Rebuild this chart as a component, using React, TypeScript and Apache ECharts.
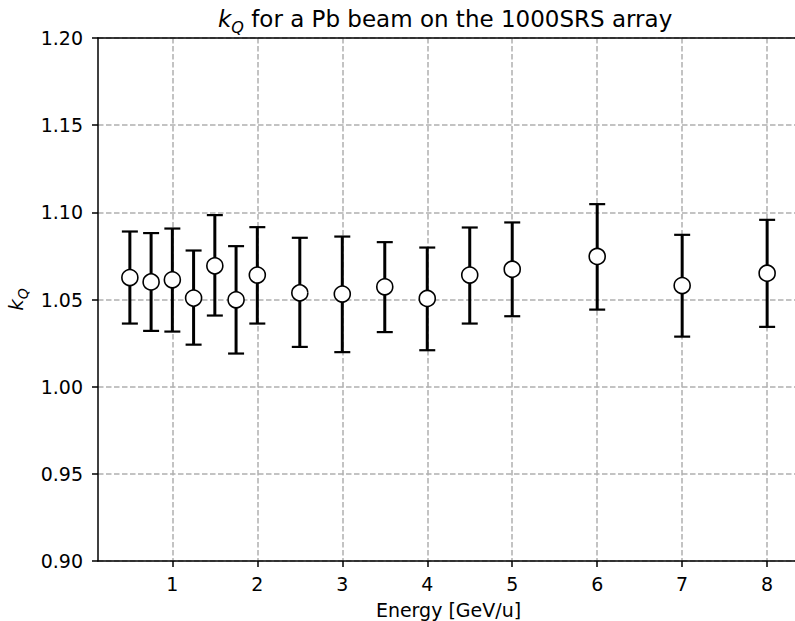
import React, { useEffect, useRef } from "react";
import * as echarts from "echarts";

const energies = [0.5, 0.75, 1, 1.25, 1.5, 1.75, 2, 2.5, 3, 3.5, 4, 4.5, 5, 6, 7, 8];
const kqValues = [1.0626, 1.0601, 1.0613, 1.0508, 1.0693, 1.0498, 1.064, 1.0538, 1.0531, 1.0573, 1.0506, 1.064, 1.0674, 1.0747, 1.058, 1.0651];
const kqUpper = [1.089, 1.0881, 1.0907, 1.0781, 1.0984, 1.0806, 1.0915, 1.0854, 1.0861, 1.0829, 1.0798, 1.0913, 1.0942, 1.1047, 1.0871, 1.0957];
const kqLower = [1.0362, 1.032, 1.0316, 1.0241, 1.0408, 1.019, 1.0362, 1.0228, 1.0198, 1.0313, 1.0209, 1.0362, 1.0404, 1.0442, 1.0287, 1.0343];
const xTicks = [1, 2, 3, 4, 5, 6, 7, 8];

const FONT = "DejaVu Sans";

export default function App() {
  const ref = useRef<HTMLDivElement>(null);
  useEffect(() => {
    if (!ref.current) return;
    const chart = echarts.init(ref.current, null, { renderer: "svg" });
    const points = energies.map((x, i) => [x, kqValues[i]]);
    const bars = energies.map((x, i) => [x, kqLower[i], kqUpper[i]]);
    const option: any = {
      animation: false,
      backgroundColor: "#fff",
      title: {
        text: "{k|k}{sub|Q}{t| for a Pb beam on the 1000SRS array}",
        left: 213,
        top: 2,
        textStyle: {
          fontWeight: "normal",
          rich: {
            k: { fontFamily: FONT, fontSize: 23, fontStyle: "italic", fontWeight: "normal", color: "#000", verticalAlign: "bottom", padding: [0, 0, 5, 0] },
            sub: { fontFamily: FONT, fontSize: 16, fontStyle: "italic", fontWeight: "normal", color: "#000", verticalAlign: "bottom" },
            t: { fontFamily: FONT, fontSize: 23, fontWeight: "normal", color: "#000", verticalAlign: "bottom", padding: [0, 0, 5, 0] },
          },
        },
      },
      grid: { left: 98, right: -4, top: 38, bottom: 60, containLabel: false, outerBoundsMode: "none" },
      xAxis: [
        {
          type: "value",
          min: 0.125,
          max: 8.375,
          name: "Energy [GeV/u]",
          nameLocation: "middle",
          nameGap: 39,
          nameTextStyle: { fontFamily: FONT, fontSize: 19, lineHeight: 19, color: "#000" },
          axisLine: { show: true, onZero: false, lineStyle: { color: "#000", width: 1.5 } },
          axisTick: { show: true, length: 6, inside: false, customValues: xTicks, lineStyle: { color: "#000", width: 1.5 } },
          axisLabel: { customValues: xTicks, margin: 13, fontFamily: FONT, fontSize: 19, color: "#000" },
          splitLine: { show: true, lineStyle: { color: "#b0b0b0", width: 1.5, type: [5.5, 2.5] } },
        },
        {
          type: "value",
          position: "top",
          min: 0.125,
          max: 8.375,
          axisLine: { show: true, onZero: false, lineStyle: { color: "#000", width: 1.5 } },
          axisTick: { show: false },
          axisLabel: { show: false },
          splitLine: { show: false },
        },
      ],
      yAxis: {
        type: "value",
        min: 0.9,
        max: 1.2,
        interval: 0.05,
        name: "{k|k}{sub|Q}",
        nameLocation: "middle",
        nameGap: 62,
        nameTextStyle: {
          rich: {
            k: { fontFamily: FONT, fontSize: 20, fontStyle: "italic", color: "#000", verticalAlign: "bottom", padding: [0, 0, 4, 0] },
            sub: { fontFamily: FONT, fontSize: 14, fontStyle: "italic", color: "#000", verticalAlign: "bottom" },
          },
        },
        axisLine: { show: true, onZero: false, lineStyle: { color: "#000", width: 1.5 } },
        axisTick: { show: true, length: 6, lineStyle: { color: "#000", width: 1.5 } },
        axisLabel: {
          margin: 15,
          fontFamily: FONT,
          fontSize: 19,
          color: "#000",
          formatter: (v: number) => v.toFixed(2),
        },
        splitLine: { show: true, lineStyle: { color: "#b0b0b0", width: 1.5, type: [5.5, 2.5] } },
      },
      series: [
        {
          type: "custom",
          xAxisIndex: 0,
          encode: { x: 0, y: [1, 2] },
          data: bars,
          z: 2,
          renderItem: (params: any, api: any) => {
            const x = api.value(0);
            const lo = api.value(1);
            const hi = api.value(2);
            const top = api.coord([x, hi]);
            const bot = api.coord([x, lo]);
            const cap = 8;
            const s = { stroke: "#000", lineWidth: 2.2 };
            return {
              type: "group",
              children: [
                { type: "line", shape: { x1: top[0], y1: top[1], x2: bot[0], y2: bot[1] }, style: { stroke: "#000", lineWidth: 3 } },
                { type: "line", shape: { x1: top[0] - cap, y1: top[1], x2: top[0] + cap, y2: top[1] }, style: s },
                { type: "line", shape: { x1: bot[0] - cap, y1: bot[1], x2: bot[0] + cap, y2: bot[1] }, style: s },
              ],
            };
          },
        },
        {
          type: "scatter",
          xAxisIndex: 0,
          data: points,
          symbol: "circle",
          symbolSize: 16,
          z: 3,
          itemStyle: { color: "#fff", borderColor: "#000", borderWidth: 1.6, opacity: 1 },
        },
      ],
    };
    chart.setOption(option);
    return () => chart.dispose();
  }, []);
  return <div ref={ref} style={{ position: "absolute", left: 0, top: 0, width: 795, height: 621 }} />;
}
